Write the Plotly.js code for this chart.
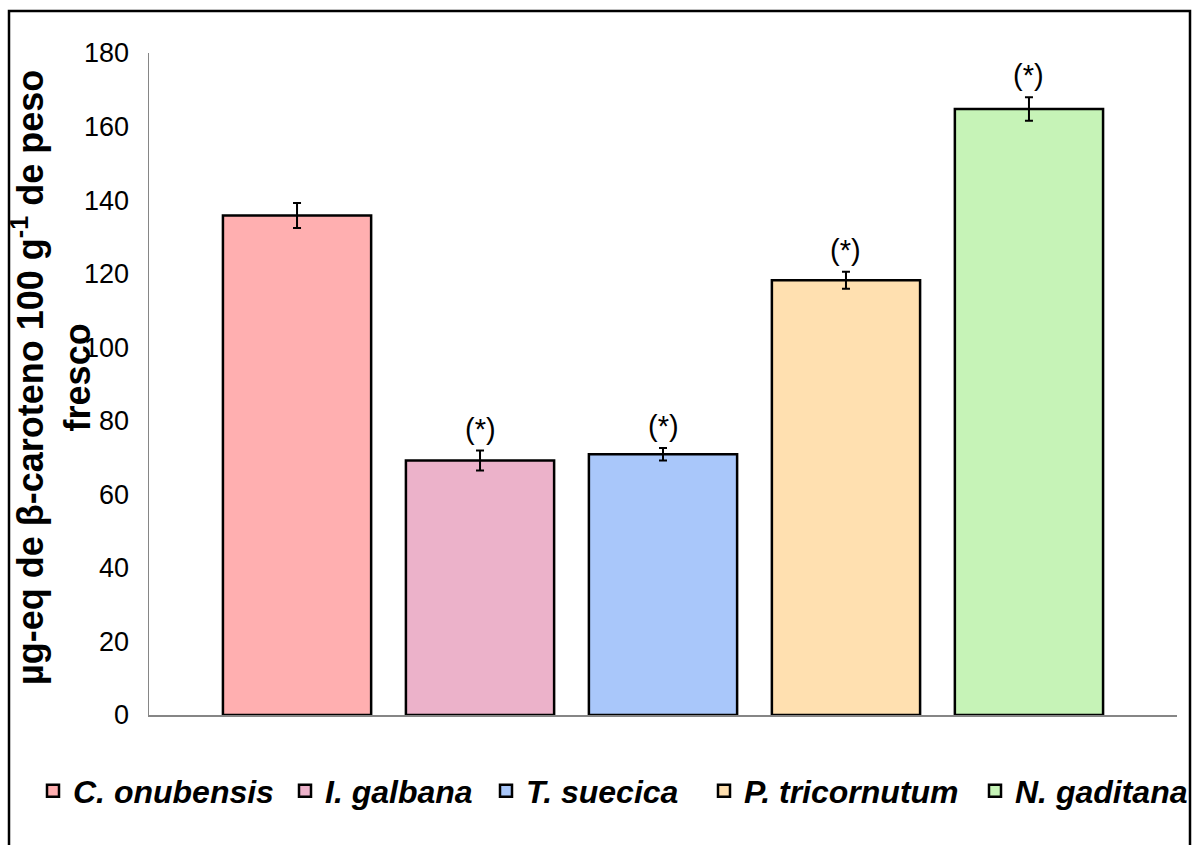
<!DOCTYPE html>
<html>
<head>
<meta charset="utf-8">
<script src="https://cdn.plot.ly/plotly-3.0.1.min.js"></script>
<style>
  html, body { margin: 0; padding: 0; background: #ffffff; }
  #chart { width: 1198px; height: 845px; }
</style>
</head>
<body>
<div id="chart"></div>
<script>
// Microalgae species
const species = ['C. onubensis', 'I. galbana', 'T. suecica', 'P. tricornutum', 'N. gaditana'];
// β-carotene equivalents (µg-eq per 100 g fresh weight)
const betaCarotene = [135.8, 69.2, 70.9, 118.2, 164.8];
// Standard deviations
const stdDev = [3.4, 2.7, 1.7, 2.3, 3.2];
// Significance marks
const significance = ['', '(*)', '(*)', '(*)', '(*)'];
const barColors = ['#ffafb0', '#ecb2ca', '#a9c7fa', '#ffe0b0', '#c6f3b7'];

const FONT = 'Liberation Sans, Arial, sans-serif';

const W = 1198, H = 845;
const M = { l: 149, r: 21, t: 53, b: 130 };
const plotW = W - M.l - M.r;
const plotH = H - M.t - M.b;
const px2x = p => (p - M.l) / plotW;
const px2y = p => (H - M.b - p) / plotH;

// each species gets its own legend box so the entries sit in one row
const legendIds = ['legend', 'legend2', 'legend3', 'legend4', 'legend5'];
const legendLeft = [33, 285, 486, 704, 975];

const traces = species.map((name, i) => ({
  type: 'bar',
  name: name,
  legend: legendIds[i],
  x: [name],
  y: [betaCarotene[i]],
  width: 0.81,
  marker: { color: barColors[i], line: { color: '#000000', width: 2.5 } },
  error_y: {
    type: 'data', array: [stdDev[i]], visible: true,
    color: '#000000', thickness: 2, width: 4
  },
  hoverinfo: 'y'
}));

const annotations = species
  .map((name, i) => ({ name, i }))
  .filter(d => significance[d.i])
  .map(d => ({
    x: d.name,
    y: betaCarotene[d.i] + stdDev[d.i],
    xref: 'x', yref: 'y',
    text: significance[d.i],
    showarrow: false,
    yanchor: 'bottom',
    yshift: 4,
    font: { family: FONT, size: 29, color: '#000000' }
  }));

// y-axis title, two lines rotated
annotations.push({
  xref: 'paper', yref: 'paper',
  x: px2x(51), y: px2y(378),
  xanchor: 'center', yanchor: 'middle',
  textangle: -90,
  showarrow: false,
  text: 'µg-eq de β-caroteno 100 g<sup>-1</sup> de peso<br>fresco',
  font: { family: FONT, size: 36, color: '#000000', weight: 'bold' }
});

const layout = {
  width: W, height: H,
  margin: M,
  paper_bgcolor: '#ffffff',
  plot_bgcolor: '#ffffff',
  barmode: 'overlay',
  showlegend: true,
  xaxis: {
    type: 'category',
    categoryorder: 'array',
    categoryarray: species,
    range: [-0.809, 4.809],
    showticklabels: false,
    ticks: '',
    showgrid: false,
    zeroline: false,
    showline: true,
    linecolor: '#868686',
    linewidth: 1.5,
    fixedrange: true
  },
  yaxis: {
    range: [0, 180],
    dtick: 20,
    ticks: '',
    showgrid: false,
    zeroline: false,
    showline: true,
    linecolor: '#868686',
    linewidth: 1.5,
    ticklabelstandoff: 13,
    tickfont: { family: FONT, size: 27, color: '#000000' },
    automargin: false
  },
  annotations: annotations,
  shapes: [{
    type: 'rect', xref: 'paper', yref: 'paper', layer: 'below',
    x0: px2x(9), x1: px2x(1190), y0: px2y(850), y1: px2y(11),
    line: { color: '#000000', width: 2.5 }, fillcolor: 'rgba(0,0,0,0)'
  }]
};

legendIds.forEach((id, i) => {
  layout[id] = {
    orientation: 'h',
    xref: 'container', yref: 'container',
    x: legendLeft[i] / W, xanchor: 'left',
    y: (H - 791) / H, yanchor: 'middle',
    borderwidth: 0,
    bgcolor: 'rgba(0,0,0,0)',
    font: { family: FONT, size: 32, color: '#000000', weight: 'bold', style: 'italic' },
    itemclick: false
  };
});

Plotly.newPlot('chart', traces, layout, { displayModeBar: false, staticPlot: true });
</script>
</body>
</html>
